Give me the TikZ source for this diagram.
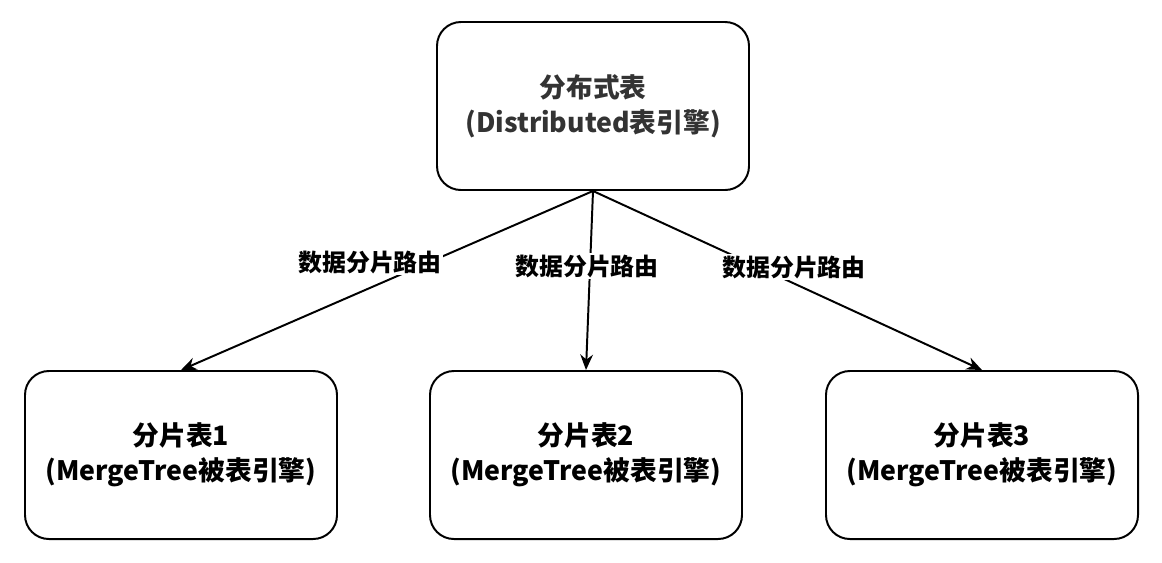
\documentclass[tikz,border=0pt]{standalone}
\usepackage{fontspec}
\setmainfont{Noto Sans CJK SC}
\usepackage{xcolor}
\usepackage{tikz}
\usetikzlibrary{positioning, arrows.meta, calc}
\definecolor{darktext}{HTML}{333333}

\tikzset{
  tablebox/.style={draw=black, line width=1.4pt, rounded corners=17pt, fill=white,
    minimum width=312*0.025cm, minimum height=168*0.025cm, align=center,
    font=\fontsize{19}{25}\selectfont\bfseries},
  routelabel/.style={fill=white, inner sep=1pt, font=\fontsize{17}{20}\selectfont\bfseries},
  route/.style={line width=1.4pt, -{Stealth[length=11pt, width=9pt]}}
}

\begin{document}
\begin{tikzpicture}[x=0.025cm, y=-0.025cm]
  \useasboundingbox (0,0) rectangle (1162,562);
  % distributed table
  \node[tablebox, text=darktext] (dist) at (593,106) {分布式表\\(Distributed表引擎)};
  % shards
  \node[tablebox] (shard1) at (181,455) {分片表1\\(MergeTree被表引擎)};
  \node[tablebox] (shard2) at (586,455) {分片表2\\(MergeTree被表引擎)};
  \node[tablebox] (shard3) at (982,455) {分片表3\\(MergeTree被表引擎)};
  \draw[route] (dist.south) -- (shard1.north);
  \draw[route] (dist.south) -- (shard2.north);
  \draw[route] (dist.south) -- (shard3.north);
  \node[routelabel] (lab1) at (370,262) {数据分片路由};
  \node[routelabel] (lab2) at (587,266) {数据分片路由};
  \node[routelabel] (lab3) at (794,267) {数据分片路由};
\end{tikzpicture}
\end{document}
